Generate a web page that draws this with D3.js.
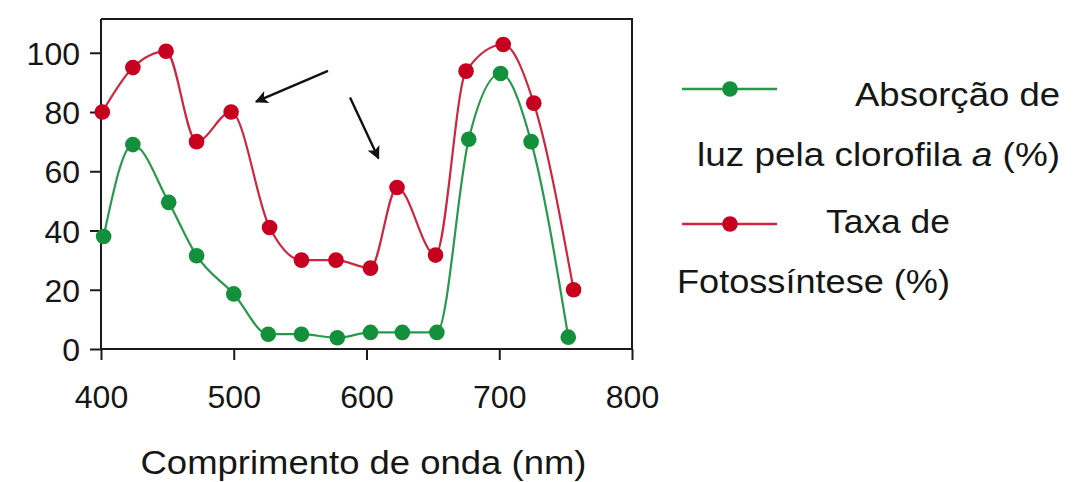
<!DOCTYPE html>
<html>
<head>
<meta charset="utf-8">
<script src="https://cdn.jsdelivr.net/npm/d3@7"></script>
<style>
  html, body { margin: 0; padding: 0; background: #fff; }
  svg { display: block; font-family: "Liberation Sans", Arial, Helvetica, sans-serif; }
</style>
</head>
<body>
<svg id="chart" width="1083" height="482"></svg>
<script>
// ---- data ----
const photoWavelength = [401, 424, 449, 472, 498, 527, 551, 577, 603, 623, 652, 675, 703, 726, 756];
const photoRate       = [80, 95, 100.5, 70, 80, 41, 30, 30, 27.3, 54.5, 31.7, 93.8, 102.8, 83, 20];
const absWavelength   = [402, 424, 451, 472, 500, 526, 551, 578, 603, 627, 653, 677, 701, 724, 752];
const absValue        = [38, 69, 49.5, 31.5, 18.6, 5, 5, 3.8, 5.6, 5.6, 5.6, 70.8, 93, 70, 4];
const xTicks = [400, 500, 600, 700, 800];
const yTicks = [0, 20, 40, 60, 80, 100];
const arrows = [
  { from: [571, 93.9], to: [516.8, 83.5] },
  { from: [587.6, 84.9], to: [609, 64.4] }
];
const xTitle = "Comprimento de onda (nm)";

// ---- layout ----
const svg = d3.select("#chart");
const mLeft = 101, mRight = 632, mTop = 19, mBottom = 349;
const x = d3.scaleLinear().domain([400, 800]).range([mLeft, mRight]);
const y = d3.scaleLinear().domain([0, 111.4]).range([mBottom, mTop]);

const red = "#c7001f", redLine = "#cc2640";
const green = "#12903b", greenLine = "#27984c";
const axisColor = "#1a1a1a";
const textColor = "#161616";

// frame (top & right)
svg.append("path")
  .attr("d", `M${mLeft},${mTop}H${mRight}V${mBottom}`)
  .attr("fill", "none").attr("stroke", axisColor).attr("stroke-width", 2);

// axes
const xAxis = svg.append("g").attr("transform", `translate(0,${mBottom})`)
  .call(d3.axisBottom(x).tickValues(xTicks).tickSize(11).tickPadding(25).tickSizeOuter(0));
const yAxis = svg.append("g").attr("transform", `translate(${mLeft},0)`)
  .call(d3.axisLeft(y).tickValues(yTicks).tickSize(11).tickPadding(10).tickSizeOuter(0));
[xAxis, yAxis].forEach(g => {
  g.select(".domain").attr("stroke", axisColor).attr("stroke-width", 2);
  g.selectAll(".tick line").attr("stroke", axisColor).attr("stroke-width", 2);
  g.selectAll(".tick text").attr("fill", textColor).style("font-size", "32px")
    .style("font-family", '"Liberation Sans", Arial, sans-serif');
});
xAxis.selectAll(".tick text").attr("dy", "0.71em");
yAxis.selectAll(".tick text").attr("dy", "0.36em");
xAxis.select(".domain").attr("d", `M${mLeft},0H${mRight}`);
yAxis.select(".domain").attr("d", `M0,${mTop}V${mBottom}`);

// x title
svg.append("text")
  .attr("x", (mLeft + mRight) / 2 - 3).attr("y", 474)
  .attr("text-anchor", "middle")
  .attr("fill", textColor).style("font-size", "33px")
  .attr("textLength", 446).attr("lengthAdjust", "spacingAndGlyphs")
  .text(xTitle);

// series
function drawSeries(xs, ys, lineColor, dotColor) {
  const pts = xs.map((v, i) => [v, ys[i]]);
  const line = d3.line().x(d => x(d[0])).y(d => y(d[1])).curve(d3.curveMonotoneX);
  svg.append("path").attr("d", line(pts))
    .attr("fill", "none").attr("stroke", lineColor).attr("stroke-width", 2.2);
  svg.append("g").selectAll("circle").data(pts).join("circle")
    .attr("cx", d => x(d[0])).attr("cy", d => y(d[1])).attr("r", 7.8)
    .attr("fill", dotColor);
}
drawSeries(photoWavelength, photoRate, redLine, red);
drawSeries(absWavelength, absValue, greenLine, green);

// arrows
const defs = svg.append("defs");
defs.append("marker").attr("id", "ah").attr("viewBox", "0 0 10 10")
  .attr("refX", 9).attr("refY", 5).attr("markerWidth", 22).attr("markerHeight", 13)
  .attr("markerUnits", "userSpaceOnUse").attr("orient", "auto")
  .append("path").attr("d", "M0,0L10,5L0,10L2.5,5Z").attr("fill", "#111");
svg.append("g").selectAll("line").data(arrows).join("line")
  .attr("x1", d => x(d.from[0])).attr("y1", d => y(d.from[1]))
  .attr("x2", d => x(d.to[0])).attr("y2", d => y(d.to[1]))
  .attr("stroke", "#111").attr("stroke-width", 2.4).attr("marker-end", "url(#ah)");

// legend
const leg = svg.append("g");
function legendItem(cy, lineColor, dotColor) {
  leg.append("line").attr("x1", 682).attr("x2", 777).attr("y1", cy).attr("y2", cy)
    .attr("stroke", lineColor).attr("stroke-width", 2.4);
  leg.append("circle").attr("cx", 730).attr("cy", cy).attr("r", 7.8).attr("fill", dotColor);
}
legendItem(89, greenLine, green);
legendItem(224, redLine, red);

const legFont = "33px";
leg.append("text").attr("x", 1060).attr("y", 106).attr("text-anchor", "end")
  .attr("fill", textColor).style("font-size", legFont)
  .attr("textLength", 205).attr("lengthAdjust", "spacingAndGlyphs")
  .text("Absorção de");
const l2 = leg.append("text").attr("x", 1060).attr("y", 166).attr("text-anchor", "end")
  .attr("fill", textColor).style("font-size", legFont)
  .attr("textLength", 363).attr("lengthAdjust", "spacingAndGlyphs");
l2.append("tspan").text("luz pela clorofila ");
l2.append("tspan").style("font-style", "italic").text("a");
l2.append("tspan").text(" (%)");
leg.append("text").attr("x", 950).attr("y", 233).attr("text-anchor", "end")
  .attr("fill", textColor).style("font-size", legFont)
  .attr("textLength", 124).attr("lengthAdjust", "spacingAndGlyphs")
  .text("Taxa de");
leg.append("text").attr("x", 677).attr("y", 293).attr("text-anchor", "start")
  .attr("fill", textColor).style("font-size", legFont)
  .attr("textLength", 273).attr("lengthAdjust", "spacingAndGlyphs")
  .text("Fotossíntese (%)");
</script>
</body>
</html>
